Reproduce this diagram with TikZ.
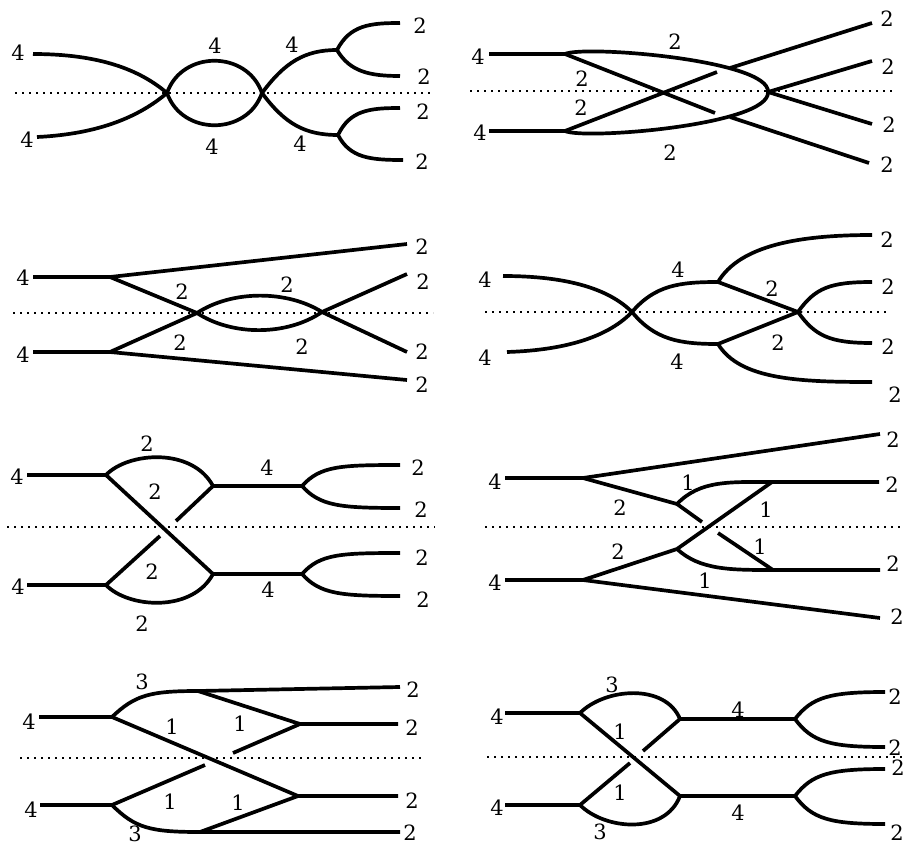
\documentclass[tikz,border=0pt]{standalone}
\usepackage{fontspec}
\setmainfont{DejaVu Serif}
\begin{document}
\begin{tikzpicture}[x=1pt, y=-1pt,
        strand/.style={line width=3.7pt},
        mirror/.style={line width=2pt, dash pattern=on 2pt off 5pt},
        lbl/.style={inner sep=0pt, font=\fontsize{21}{25}\selectfont}]
        \useasboundingbox (0,0) rectangle (903,846);
        % Mirror lines
        \foreach \a/\b/\y in {15/430/93, 470/893/91, 13/433/313, 485/887/312,
                              7/435/527, 485/903/527, 20/422/758, 487/903/757}
        {
            \draw[mirror] (\a,\y) -- (\b,\y);
        }
        % Labels
        \foreach \n/\x/\y/\t in {a1/18/53/4, a2/27/140/4, a3/215/46/4, a4/212/147/4,
                a5/292/45/4, a6/300/144/4, a7/420/26/2, a8/424/77/2, a9/423/112/2, a10/422/162/2,
                b1/478/57/4, b2/480/133/4, b3/675/42/2, b4/582/79/2, b5/581/108/2,
                b6/670/153/2, b7/887/19/2, b8/888/67/2, b9/889/125/2, b10/887/165/2,
                c1/23/278/4, c2/23/355/4, c3/182/292/2, c4/287/285/2, c5/180/343/2,
                c6/302/347/2, c7/422/247/2, c8/423/282/2, c9/422/352/2, c10/422/385/2,
                d1/485/280/4, d2/485/358/4, d3/678/270/4, d4/677/362/4, d5/772/289/2,
                d6/778/343/2, d7/887/240/2, d8/888/287/2, d9/888/347/2, d10/895/395/2,
                e1/17/477/4, e2/18/587/4, e3/147/444/2, e4/155/492/2, e5/267/468/4, e6/152/572/2,
                e7/268/590/4, e8/142/624/2, e9/418/468/2, e10/421/510/2, e11/422/558/2, e12/423/600/2,
                f1/495/482/4, f2/495/583/4, f3/620/508/2, f4/688/483/1, f5/766/510/1, f6/618/552/2,
                f7/760/547/1, f8/705/581/1, f9/893/440/2, f10/892/485/2, f11/893/564/2, f12/897/617/2,
                g1/29/722/4, g2/31/810/4, g3/142/682/3, g4/172/727/1, g5/240/724/1, g6/170/802/1,
                g7/238/803/1, g8/135/834/3, g9/413/690/2, g10/412/728/2, g11/412/801/2, g12/410/833/2,
                h1/497/717/4, h2/497/808/4, h3/612/685/3, h4/620/732/1, h5/738/710/4, h6/620/793/1,
                h7/738/813/4, h8/600/832/3, h9/895/697/2, h10/895/748/2, h11/898/768/2, h12/897/833/2}
        {
            \node[lbl] (\n) at (\x,\y) {\t};
        }
        % Panel a
        \draw[strand] (33,54) .. controls (100,54) and (140,70) .. (167,93);
        \draw[strand] (37,137) .. controls (100,134) and (140,116) .. (167,93);
        \draw[strand] (167,93) .. controls (182,50) and (247,50) .. (262,93);
        \draw[strand] (167,93) .. controls (182,136) and (247,136) .. (262,93);
        \draw[strand] (262,93) .. controls (285,62) and (305,50) .. (337,50);
        \draw[strand] (262,93) .. controls (285,124) and (305,135) .. (338,135);
        \draw[strand] (337,50) .. controls (350,25) and (370,23) .. (400,23);
        \draw[strand] (337,50) .. controls (350,72) and (370,76) .. (400,76);
        \draw[strand] (338,135) .. controls (350,110) and (370,108) .. (400,108);
        \draw[strand] (338,135) .. controls (350,158) and (370,160) .. (403,160);
        % Panel b
        \draw[strand] (489,54) -- (565,54) .. controls (585,45) and (770,60) .. (768,92);
        \draw[strand] (489,131) -- (565,131) .. controls (585,140) and (770,125) .. (768,92);
        \draw[strand] (565,54) -- (715,113);
        \draw[strand] (730,117) -- (869,163);
        \draw[strand] (565,131) -- (717,72);
        \draw[strand] (730,68) -- (872,23);
        \draw[strand] (768,92) -- (872,61);
        \draw[strand] (768,92) -- (872,124);
        % Panel c
        \draw[strand] (33,277) -- (110,277) -- (407,244);
        \draw[strand] (33,352) -- (110,352) -- (407,380);
        \draw[strand] (110,277) -- (197,313) .. controls (232,336) and (287,336) .. (322,312) -- (407,352);
        \draw[strand] (110,352) -- (197,313) .. controls (232,290) and (287,290) .. (322,312) -- (407,274);
        % Panel d
        \draw[strand] (503,276) .. controls (570,276) and (610,290) .. (632,312);
        \draw[strand] (507,352) .. controls (570,350) and (610,335) .. (632,312);
        \draw[strand] (632,312) .. controls (655,285) and (680,282) .. (718,282);
        \draw[strand] (632,312) .. controls (655,340) and (680,344) .. (718,344);
        \draw[strand] (718,282) .. controls (740,245) and (800,235) .. (872,235);
        \draw[strand] (718,344) .. controls (740,380) and (800,382) .. (872,382);
        \draw[strand] (718,282) -- (798,312) -- (718,344);
        \draw[strand] (798,312) .. controls (815,288) and (830,282) .. (872,282);
        \draw[strand] (798,312) .. controls (815,336) and (830,343) .. (872,343);
        % Panel e
        \draw[strand] (27,475) -- (106,475) .. controls (128,452) and (192,447) .. (213,486);
        \draw[strand] (27,585) -- (106,585) .. controls (128,608) and (192,613) .. (213,574);
        \draw[strand] (106,475) -- (213,574);
        \draw[strand] (213,486) -- (176,521);
        \draw[strand] (160,536) -- (106,585);
        \draw[strand] (213,486) -- (302,486);
        \draw[strand] (213,574) -- (302,574);
        \foreach \y in {486, 574}
        {
            \draw[strand] (302,\y) .. controls (320,\y-20) and (340,\y-21) .. (400,\y-21);
            \draw[strand] (302,\y) .. controls (320,\y+20) and (340,\y+22) .. (400,\y+22);
        }
        % Panel f
        \draw[strand] (505,478) -- (583,478) -- (880,434);
        \draw[strand] (505,580) -- (583,580) -- (880,618);
        \draw[strand] (583,478) -- (677,504) .. controls (700,480) and (730,482) .. (772,482) -- (879,482);
        \draw[strand] (677,504) -- (702,522);
        \draw[strand] (583,580) -- (677,549) -- (772,482);
        \draw[strand] (677,549) .. controls (700,570) and (730,570) .. (773,570) -- (880,570);
        \draw[strand] (718,533) -- (773,570);
        % Panel g
        \draw[strand] (39,717) -- (112,717) .. controls (135,695) and (150,691) .. (198,691) -- (400,687);
        \draw[strand] (198,691) -- (300,724) -- (398,724);
        \draw[strand] (300,724) -- (233,753);
        \draw[strand] (112,717) -- (298,796) -- (398,796);
        \draw[strand] (205,765) -- (112,805);
        \draw[strand] (40,805) -- (112,805) .. controls (135,828) and (150,832) .. (200,832) -- (400,832);
        \draw[strand] (200,832) -- (298,796);
        % Panel h
        \draw[strand] (505,713) -- (580,713) .. controls (605,688) and (665,683) .. (680,719);
        \draw[strand] (505,805) -- (580,805) .. controls (605,830) and (665,835) .. (680,796);
        \draw[strand] (580,713) -- (680,796);
        \draw[strand] (680,719) -- (643,751);
        \draw[strand] (630,763) -- (580,805);
        \draw[strand] (680,719) -- (795,719);
        \draw[strand] (680,796) -- (795,796);
        \foreach \y in {719, 796}
        {
            \draw[strand] (795,\y) .. controls (812,\y-22) and (830,\y-27) .. (885,\y-27);
            \draw[strand] (795,\y) .. controls (812,\y+23) and (830,\y+28) .. (885,\y+28);
        }
\end{tikzpicture}
\end{document}
